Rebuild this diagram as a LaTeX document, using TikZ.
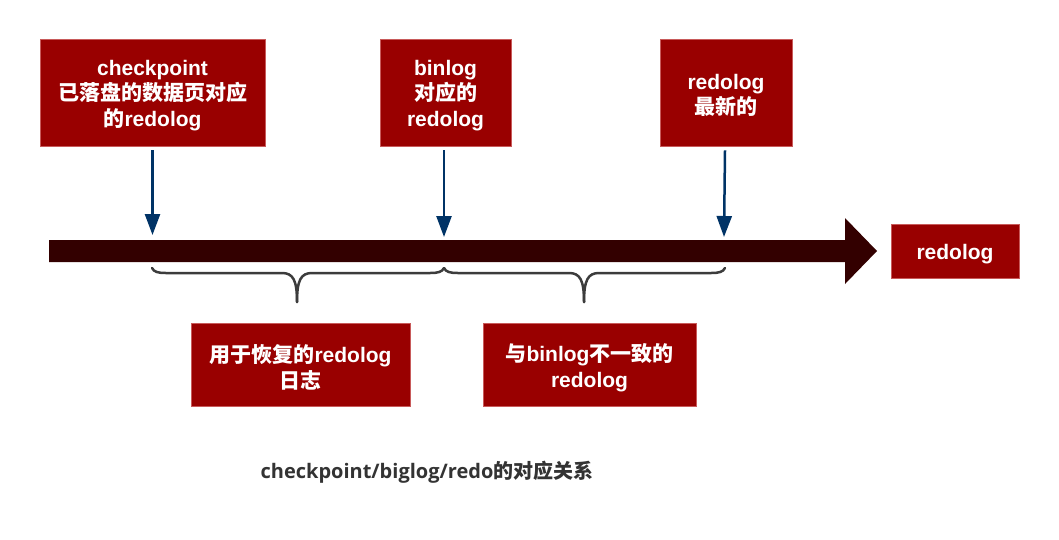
\documentclass[tikz,border=0pt]{standalone}
\usepackage{fontspec}
\setmainfont{Liberation Sans}
\newfontfamily\cjk{Noto Sans CJK SC}
\newfontfamily\capfont{Open Sans}
\usetikzlibrary{arrows.meta}
\definecolor{boxred}{RGB}{153,0,0}
\definecolor{boxedge}{RGB}{200,90,90}
\definecolor{darkline}{RGB}{51,0,0}
\definecolor{arrowblue}{RGB}{0,51,102}
\definecolor{bracegray}{RGB}{60,60,60}
\definecolor{capgray}{RGB}{51,51,51}
\begin{document}
\begin{tikzpicture}[x=1pt,y=-1pt,
  redbox/.style={rectangle, fill=boxred, draw=boxedge, line width=0.6pt, inner sep=0pt},
  boxtext/.style={text=white, font=\fontsize{21}{25.5}\selectfont\bfseries, align=center, inner sep=0pt, yshift=-3pt},
  pointer/.style={draw=arrowblue, line width=2.5pt, -{Triangle[length=21pt,width=15pt]}},
  bracestyle/.style={draw=bracegray, line width=2.5pt, line cap=round},
  caption/.style={text=capgray, font=\fontsize{20}{24}\selectfont\bfseries\capfont}]
\useasboundingbox (0,0) rectangle (1059,539);

% top boxes
\node[redbox, minimum width=225pt, minimum height=107pt,
  label={[boxtext]center:checkpoint\\{\cjk 已落盘的数据页对应}\\{\cjk 的}redolog}] (b1) at (152.5,92.5) {};
\node[redbox, minimum width=131pt, minimum height=107pt,
  label={[boxtext]center:binlog\\{\cjk 对应的}\\redolog}] (b2) at (445.5,92.5) {};
\node[redbox, minimum width=132pt, minimum height=107pt,
  label={[boxtext]center:redolog\\{\cjk 最新的}}] (b3) at (726,92.5) {};
\node[redbox, minimum width=128pt, minimum height=54pt,
  label={[boxtext]center:redolog}] (b4) at (955,251) {};
\node[redbox, minimum width=219pt, minimum height=83pt,
  label={[boxtext]center:{\cjk 用于恢复的}redolog\\{\cjk 日志}}] (b5) at (300.5,364.5) {};
\node[redbox, minimum width=213pt, minimum height=83pt,
  label={[boxtext]center:{\cjk 与}binlog{\cjk 不一致的}\\redolog}] (b6) at (589.5,364.5) {};

% timeline arrow
\fill[darkline] (49,240) -- (845,240) -- (845,218) -- (877,251) -- (845,284) -- (845,262) -- (49,262) -- cycle;

% pointer arrows
\coordinate (t1) at (152.5,235);
\coordinate (t2) at (444,237);
\coordinate (t3) at (724,237);
\draw[pointer] ([yshift=-4pt]b1.south) -- (t1);
\draw[pointer] ([xshift=-1.5pt,yshift=-4pt]b2.south) -- (t2);
\draw[pointer] ([xshift=-1pt,yshift=-4pt]b3.south) -- (t3);

% braces
\draw[bracestyle] (152,268) .. controls (154,272) and (158,273) .. (166,273)
  -- (282,273) .. controls (293,273) and (297,280) .. (297,302);
\draw[bracestyle] (444,268) .. controls (442,272) and (438,273) .. (430,273)
  -- (312,273) .. controls (301,273) and (297,280) .. (297,302);
\draw[bracestyle] (444,268) .. controls (446,272) and (450,273) .. (458,273)
  -- (569,273) .. controls (580,273) and (584,280) .. (584,302);
\draw[bracestyle] (725,268) .. controls (723,272) and (719,273) .. (711,273)
  -- (599,273) .. controls (588,273) and (584,280) .. (584,302);

% caption
\node[caption] (cap) at (427,472) {checkpoint/biglog/redo{\cjk 的对应关系}};
\end{tikzpicture}
\end{document}
